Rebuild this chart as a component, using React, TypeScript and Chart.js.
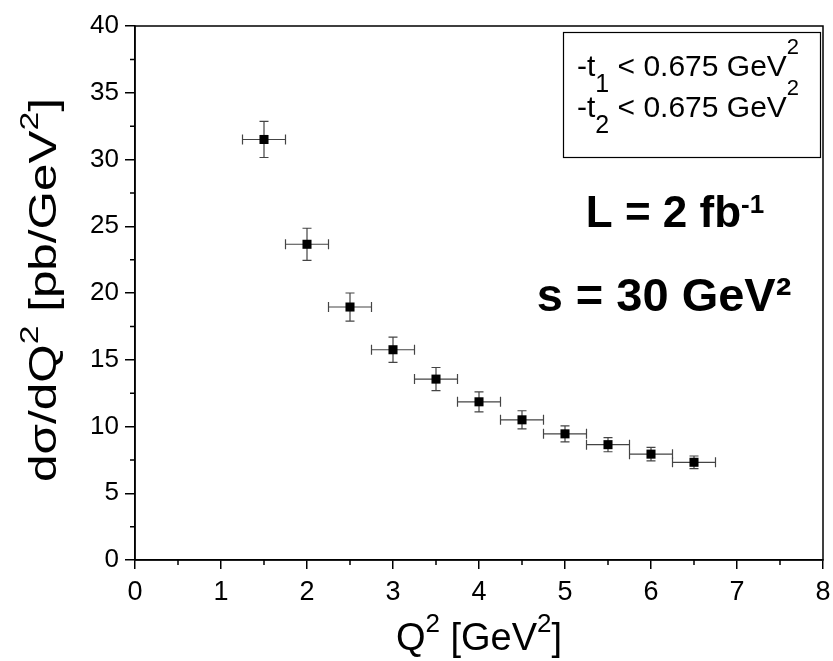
import React, { useEffect, useRef } from "react";
import { Chart, registerables } from "chart.js";

Chart.register(...registerables);

// ---- data ----
const q2Values = [1.5, 2.0, 2.5, 3.0, 3.5, 4.0, 4.5, 5.0, 5.5, 6.0, 6.5];
const dsigmaValues = [31.5, 23.65, 18.95, 15.75, 13.55, 11.85, 10.5, 9.45, 8.64, 7.93, 7.32];
const dsigmaErrors = [1.35, 1.2, 1.05, 0.95, 0.87, 0.75, 0.68, 0.6, 0.53, 0.5, 0.47];
const q2Errors = [0.25, 0.25, 0.25, 0.25, 0.25, 0.25, 0.25, 0.25, 0.25, 0.25, 0.25];
const xMinorTicks = [0.5, 1.5, 2.5, 3.5, 4.5, 5.5, 6.5, 7.5];
const yMinorTicks = [2.5, 7.5, 12.5, 17.5, 22.5, 27.5, 32.5, 37.5];

const FONT = "'Liberation Sans', Arial, Helvetica, sans-serif";

type Seg = { text: string; size: number; dy?: number; bold?: boolean };

function drawRich(
  ctx: CanvasRenderingContext2D,
  segs: Seg[],
  x: number,
  y: number,
  align: "left" | "center",
  rotate = false,
  stretch = 1
) {
  ctx.save();
  ctx.translate(x, y);
  if (rotate) ctx.rotate(-Math.PI / 2);
  if (stretch !== 1) ctx.scale(stretch, 1);
  ctx.textBaseline = "alphabetic";
  ctx.textAlign = "left";
  ctx.fillStyle = "#000";
  const widths = segs.map((s) => {
    ctx.font = `${s.bold ? "bold " : ""}${s.size}px ${FONT}`;
    return ctx.measureText(s.text).width;
  });
  const total = widths.reduce((a, b) => a + b, 0);
  let cx = align === "center" ? -total / 2 : 0;
  segs.forEach((s, i) => {
    ctx.font = `${s.bold ? "bold " : ""}${s.size}px ${FONT}`;
    ctx.fillText(s.text, cx, s.dy || 0);
    cx += widths[i];
  });
  ctx.restore();
}

const decorPlugin = {
  id: "decor",
  beforeDatasetsDraw(chart: any) {
    const ctx: CanvasRenderingContext2D = chart.ctx;
    const xs = chart.scales.x;
    const ys = chart.scales.y;
    ctx.save();
    ctx.strokeStyle = "#444";
    ctx.lineWidth = 1.2;
    q2Values.forEach((q, i) => {
      const px = xs.getPixelForValue(q);
      const py = ys.getPixelForValue(dsigmaValues[i]);
      const x0 = xs.getPixelForValue(q - q2Errors[i]);
      const x1 = xs.getPixelForValue(q + q2Errors[i]);
      const y0 = ys.getPixelForValue(dsigmaValues[i] - dsigmaErrors[i]);
      const y1 = ys.getPixelForValue(dsigmaValues[i] + dsigmaErrors[i]);
      ctx.beginPath();
      ctx.moveTo(x0, py);
      ctx.lineTo(x1, py);
      ctx.moveTo(x0, py - 5);
      ctx.lineTo(x0, py + 5);
      ctx.moveTo(x1, py - 5);
      ctx.lineTo(x1, py + 5);
      ctx.moveTo(px, y0);
      ctx.lineTo(px, y1);
      ctx.moveTo(px - 4.5, y0);
      ctx.lineTo(px + 4.5, y0);
      ctx.moveTo(px - 4.5, y1);
      ctx.lineTo(px + 4.5, y1);
      ctx.stroke();
    });
    ctx.restore();
  },
  afterDraw(chart: any) {
    const ctx: CanvasRenderingContext2D = chart.ctx;
    const xs = chart.scales.x;
    const ys = chart.scales.y;
    const a = chart.chartArea;
    ctx.save();
    ctx.strokeStyle = "#000";
    ctx.lineWidth = 1.5;
    // frame
    ctx.strokeRect(a.left, a.top, a.right - a.left, a.bottom - a.top);
    // minor ticks
    ctx.beginPath();
    xMinorTicks.forEach((v) => {
      const px = xs.getPixelForValue(v);
      ctx.moveTo(px, a.bottom);
      ctx.lineTo(px, a.bottom + 5);
    });
    yMinorTicks.forEach((v) => {
      const py = ys.getPixelForValue(v);
      ctx.moveTo(a.left, py);
      ctx.lineTo(a.left - 5, py);
    });
    ctx.stroke();

    // legend box
    ctx.lineWidth = 1.2;
    ctx.strokeRect(563.5, 32.5, 257, 125);
    ctx.restore();

    drawRich(ctx, [
      { text: "-t", size: 30 },
      { text: "1", size: 25, dy: 16 },
      { text: " < 0.675 GeV", size: 30 },
      { text: "2", size: 22, dy: -22 },
    ], 577, 76, "left");
    drawRich(ctx, [
      { text: "-t", size: 30 },
      { text: "2", size: 25, dy: 16 },
      { text: " < 0.675 GeV", size: 30 },
      { text: "2", size: 22, dy: -22 },
    ], 577, 117, "left");

    drawRich(ctx, [
      { text: "L = 2 fb", size: 44, bold: true },
      { text: "-1", size: 26, bold: true, dy: -14 },
    ], 675, 227, "center");
    drawRich(ctx, [{ text: "s = 30 GeV\u00B2", size: 47, bold: true }], 664, 311, "center");

    // axis titles
    drawRich(ctx, [
      { text: "Q", size: 38 },
      { text: "2", size: 26, dy: -18 },
      { text: " [GeV", size: 38 },
      { text: "2", size: 26, dy: -18 },
      { text: "]", size: 38 },
    ], (a.left + a.right) / 2, 650, "center");
    drawRich(ctx, [
      { text: "d\u03C3/dQ", size: 38 },
      { text: "2", size: 26, dy: -18 },
      { text: " [pb/GeV", size: 38 },
      { text: "2", size: 26, dy: -18 },
      { text: "]", size: 38 },
    ], 56, 290, "center", true, 1.3);
  },
};

export default function App() {
  const ref = useRef<HTMLCanvasElement>(null);
  useEffect(() => {
    document.body.style.margin = "0";
    const canvas = ref.current!;
    const chart = new Chart(canvas, {
      type: "scatter",
      data: {
        datasets: [
          {
            label: "dσ/dQ²",
            data: q2Values.map((q, i) => ({ x: q, y: dsigmaValues[i] })),
            pointStyle: "rect",
            pointRadius: 6.4,
            pointHoverRadius: 6.4,
            backgroundColor: "#000",
            borderColor: "#000",
            borderWidth: 0,
          },
        ],
      },
      options: {
        responsive: false,
        animation: false,
        events: [],
        layout: { padding: { top: 26, right: 10, left: 0, bottom: 0 } },
        plugins: {
          legend: { display: false },
          tooltip: { enabled: false },
          title: { display: false },
        },
        scales: {
          x: {
            type: "linear",
            min: 0,
            max: 8,
            afterFit: (s: any) => {
              s.height = 101;
              s.paddingLeft = 0;
              s.paddingRight = 0;
            },
            ticks: {
              stepSize: 1,
              color: "#000",
              font: { family: FONT, size: 27 },
              padding: 7,
              maxRotation: 0,
            },
            grid: {
              display: true,
              drawOnChartArea: false,
              drawTicks: true,
              tickLength: 9,
              color: "#000",
              lineWidth: 1.5,
            },
            border: { display: true, color: "#000", width: 1.5 },
          },
          y: {
            type: "linear",
            min: 0,
            max: 40,
            afterFit: (s: any) => {
              s.width = 135;
              s.paddingTop = 0;
              s.paddingBottom = 0;
            },
            ticks: {
              stepSize: 5,
              color: "#000",
              font: { family: FONT, size: 26 },
              padding: 6,
            },
            grid: {
              display: true,
              drawOnChartArea: false,
              drawTicks: true,
              tickLength: 10,
              color: "#000",
              lineWidth: 1.5,
            },
            border: { display: true, color: "#000", width: 1.5 },
          },
        },
      },
      plugins: [decorPlugin],
    } as any);
    return () => chart.destroy();
  }, []);
  return (
    <div style={{ width: 833, height: 661 }}>
      <canvas ref={ref} width={833} height={661} style={{ display: "block" }} />
    </div>
  );
}
